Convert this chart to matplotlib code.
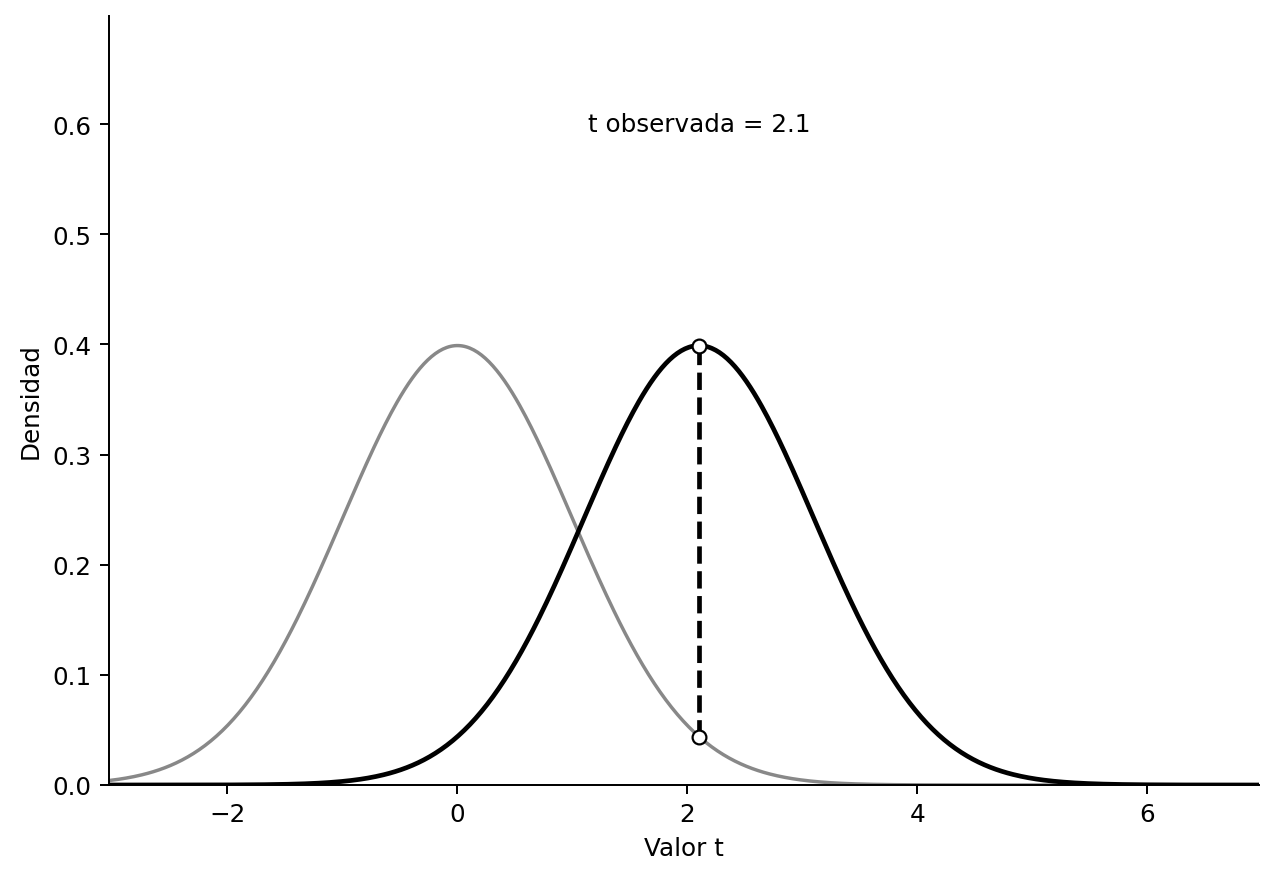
import numpy as np
import matplotlib
matplotlib.use("Agg")
import matplotlib.pyplot as plt

# valores del grafico
t_obs = 2.1
centro_nulo = 0.0
x_min, x_max = -3.03, 6.97
label_x = "Valor t"
label_y = "Densidad"
texto = "t observada = " + str(t_obs)


def densidad(x, mu):
    return np.exp(-0.5 * (x - mu) ** 2) / np.sqrt(2 * np.pi)


x = np.linspace(x_min, x_max, 600)
y_nulo = densidad(x, centro_nulo)
y_obs = densidad(x, t_obs)

DPI = 177.5
fig, ax = plt.subplots(figsize=(1277 / DPI, 879 / DPI), dpi=DPI)

ax.plot(x, y_nulo, color="#888888", lw=1.4)
ax.plot(x, y_obs, color="black", lw=1.9)

y_bajo = densidad(t_obs, centro_nulo)
y_alto = densidad(t_obs, t_obs)
ax.plot([t_obs, t_obs], [y_bajo, y_alto], color="black", lw=1.9, ls="--")
ax.plot([t_obs, t_obs], [y_bajo, y_alto], ls="none", marker="o",
        markersize=5.6, markerfacecolor="white", markeredgecolor="black",
        markeredgewidth=0.9, zorder=5)

ax.text(t_obs, 0.6, texto, ha="center", va="center", fontsize=10)

ax.set_xlim(x_min, x_max)
ax.set_ylim(0, y_alto * 1.75)
ax.set_xlabel(label_x)
ax.set_ylabel(label_y)
ax.spines["top"].set_visible(False)
ax.spines["right"].set_visible(False)

fig.subplots_adjust(left=109 / 1277, right=1259 / 1277,
                    bottom=93 / 879, top=1 - 17 / 879)
plt.savefig("out.png", dpi=DPI)
